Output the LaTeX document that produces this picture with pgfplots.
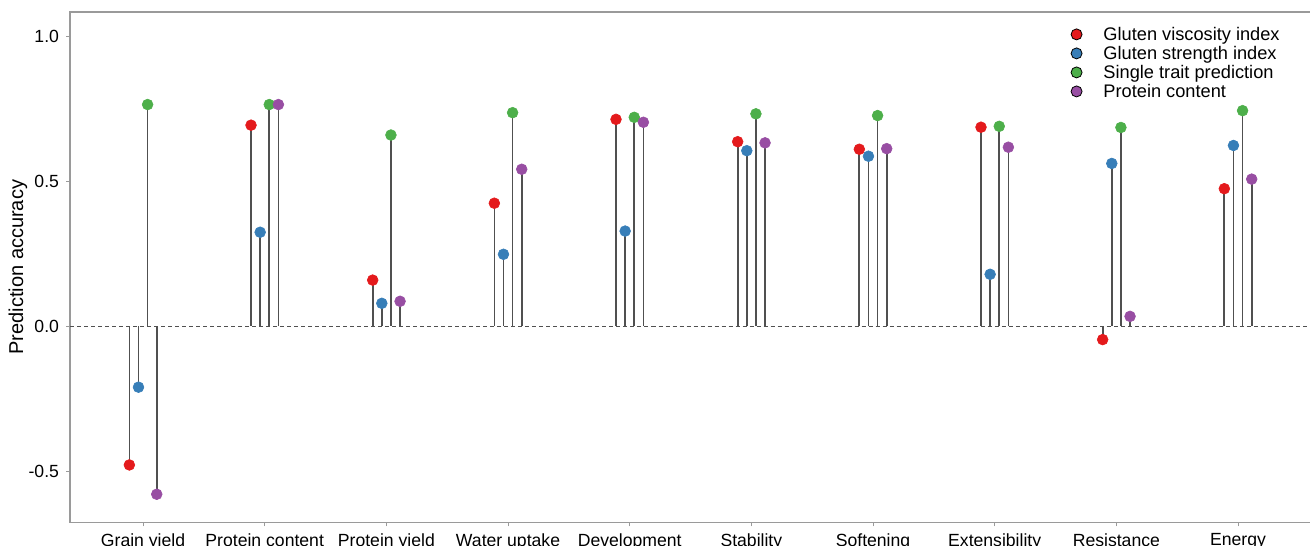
\documentclass[border=0pt]{standalone}
\usepackage{pgfplots}
\pgfplotsset{compat=1.18}
\usepackage{pgfplotstable}
\usepackage{fontspec}
\setmainfont{Liberation Sans}
\definecolor{cred}{HTML}{E41A1C}
\definecolor{cblue}{HTML}{377EB8}
\definecolor{cgreen}{HTML}{4DAF4A}
\definecolor{cpurple}{HTML}{984EA3}
\definecolor{stem}{HTML}{505050}
\definecolor{border}{HTML}{9A9A9A}
\pgfplotstableread{
x gvi gsi stp pc
0 -0.478 -0.210 0.764 -0.579
1 0.693 0.324 0.764 0.764
2 0.159 0.079 0.659 0.086
3 0.424 0.248 0.736 0.541
4 0.713 0.328 0.720 0.703
5 0.636 0.605 0.732 0.632
6 0.610 0.586 0.726 0.612
7 0.686 0.179 0.689 0.617
8 -0.046 0.561 0.685 0.034
9 0.474 0.623 0.743 0.507
}\data
\pgfplotsset{
  stemplot/.style={forget plot, ycomb, draw=stem, line width=0.85pt, mark=*, mark size=2.7pt,
    mark options={draw=#1, fill=#1, line width=0.3pt}},
}
\begin{document}
\begin{tikzpicture}
\begin{axis}[
  name=ax,
  scale only axis,
  width=620pt, height=255pt,
  xmin=-0.6, xmax=9.6,
  ymin=-0.676, ymax=1.083,
  xtick={0,...,9},
  xticklabels={Grain yield,Protein content,Protein yield,Water uptake,Development,Stability,Softening,Extensibility,Resistance,Energy},
  ytick={-0.5,0,0.5,1},
  yticklabels={-0.5,0.0,0.5,1.0},
  /pgf/number format/assume math mode=true,
  tick align=outside,
  major tick length=2pt,
  tick style={draw=border, line width=0.5pt},
  axis line style={draw=border, line width=0.6pt},
  xtick pos=bottom, ytick pos=left,
  ticklabel style={font=\fontsize{8.8}{10}\selectfont, text=black},
  ylabel={Prediction accuracy},
  ylabel style={font=\fontsize{11.6}{13}\selectfont},
  every axis y label/.style={at={(axis description cs:-0.0419,0.5)}, rotate=90, anchor=center},
  legend image code/.code={\fill[#1] (0pt,3pt) circle (2.75pt);},
  legend style={draw=none, fill=none, inner sep=0pt,
    at={(axis description cs:0.806,0.973)}, anchor=north west,
    font=\fontsize{9.1}{10}\selectfont,
    nodes={inner xsep=0pt, inner ysep=0.6pt, text height=6.5pt, text depth=1.8pt, anchor=base west},
    /tikz/every odd column/.append style={column sep=10.5pt},
    row sep=0pt},
  legend cell align=left,
]
\addlegendimage{fill=cred}
\addlegendimage{fill=cblue}
\addlegendimage{fill=cgreen}
\addlegendimage{fill=cpurple}
\addplot[forget plot, draw=stem, line width=0.6pt, dash pattern=on 2pt off 1.5pt] coordinates {(-0.6,0) (9.6,0)};
\addplot[stemplot=cred] table[x expr=\thisrow{x}-0.1125, y=gvi] {\data};
\addplot[stemplot=cblue] table[x expr=\thisrow{x}-0.0375, y=gsi] {\data};
\addplot[stemplot=cgreen] table[x expr=\thisrow{x}+0.0375, y=stp] {\data};
\addplot[stemplot=cpurple] table[x expr=\thisrow{x}+0.1125, y=pc] {\data};
\legend{Gluten viscosity index,Gluten strength index,Single trait prediction,Protein content}
\end{axis}
\pgfresetboundingbox
\path[use as bounding box] ([xshift=-35pt,yshift=-11.5pt]ax.south west) rectangle ([xshift=-0.5pt,yshift=6pt]ax.north east);
\end{tikzpicture}
\end{document}
